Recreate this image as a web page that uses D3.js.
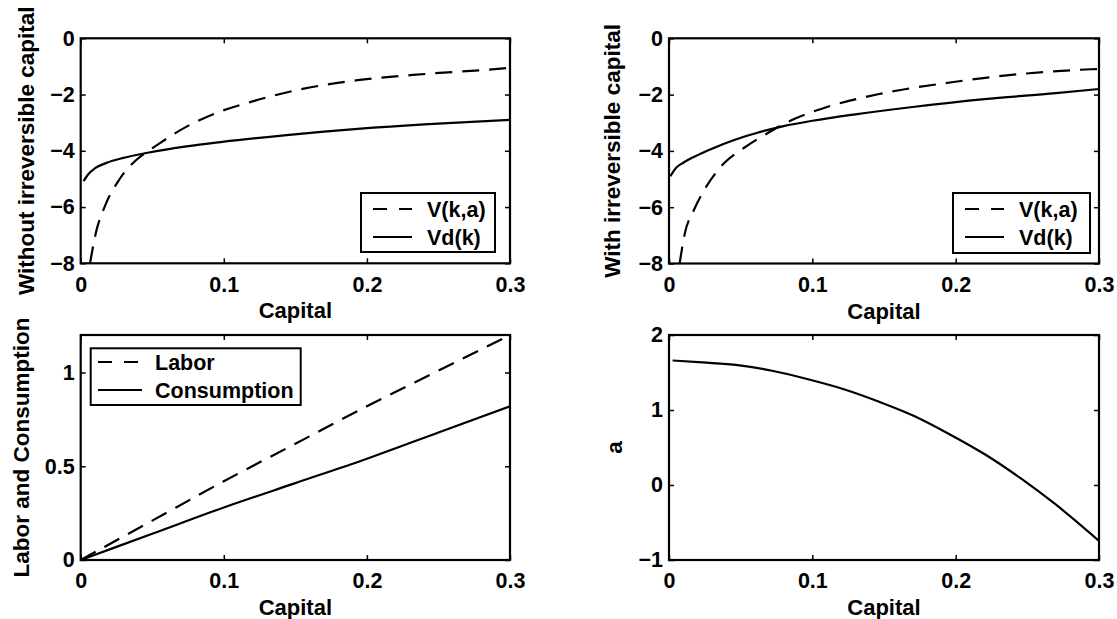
<!DOCTYPE html>
<html>
<head>
<meta charset="utf-8">
<script src="https://cdn.jsdelivr.net/npm/d3@7"></script>
<style>
  html, body { margin: 0; padding: 0; background: #fff; }
  svg { display: block; }
  text { font-family: "Liberation Sans", Arial, Helvetica, sans-serif; font-weight: bold; fill: #000; }
</style>
</head>
<body>
<svg id="chart" width="1117" height="619"></svg>
<script>
// ---------- data ----------
const capitalTicks = [0, 0.1, 0.2, 0.3];
const xLabel = "Capital";

// Top-left: without irreversible capital
const withoutV_k   = [0.0065, 0.0107, 0.017, 0.027, 0.039, 0.0468, 0.057, 0.074, 0.094, 0.119, 0.156, 0.1935, 0.243, 0.298, 0.3];
const withoutV_val = [-8, -6.9, -5.96, -5.02, -4.32, -4.02, -3.67, -3.14, -2.67, -2.26, -1.79, -1.49, -1.26, -1.06, -1.05];
const withoutVd_k   = [0.002, 0.005, 0.01, 0.018, 0.03, 0.0468, 0.074, 0.099, 0.144, 0.1935, 0.243, 0.3];
const withoutVd_val = [-5.08, -4.85, -4.62, -4.43, -4.25, -4.07, -3.84, -3.68, -3.44, -3.22, -3.05, -2.9];

// Top-right: with irreversible capital
const withV_k   = [0.0074, 0.011, 0.0173, 0.0259, 0.038, 0.053, 0.0678, 0.085, 0.1097, 0.1466, 0.196, 0.245, 0.2946, 0.3];
const withV_val = [-8, -6.94, -6.11, -5.28, -4.46, -3.87, -3.4, -2.92, -2.45, -1.98, -1.57, -1.27, -1.1, -1.09];
const withVd_k   = [0.001, 0.005, 0.01, 0.02, 0.03, 0.045, 0.06, 0.08, 0.1, 0.13, 0.17, 0.22, 0.27, 0.3];
const withVd_val = [-4.9, -4.6, -4.42, -4.15, -3.92, -3.62, -3.38, -3.12, -2.93, -2.7, -2.44, -2.16, -1.95, -1.8];

// Bottom-left: labor and consumption
const labor_k   = [0, 0.05, 0.1, 0.15, 0.2, 0.25, 0.3];
const labor_val = [0, 0.21, 0.42, 0.62, 0.82, 1.01, 1.2];
const cons_k   = [0, 0.05, 0.1, 0.15, 0.2, 0.25, 0.3];
const cons_val = [0, 0.14, 0.28, 0.41, 0.54, 0.68, 0.82];

// Bottom-right: a
const a_k   = [0.0025, 0.0234, 0.048, 0.0727, 0.097, 0.122, 0.1466, 0.171, 0.196, 0.2206, 0.245, 0.27, 0.3];
const a_val = [1.66, 1.634, 1.598, 1.52, 1.41, 1.277, 1.11, 0.92, 0.674, 0.406, 0.094, -0.263, -0.745];

const valueTicksTop = [-8, -6, -4, -2, 0];
const laborTicks = [0, 0.5, 1];
const aTicks = [-1, 0, 1, 2];

// ---------- drawing ----------
const svg = d3.select("#chart");
const zip = (ks, vs) => ks.map((k, i) => [k, vs[i]]);

const panels = [
  { id: "tl", box: [80.7, 38.3, 510, 263.3], yDomain: [-8, 0], yTicks: valueTicksTop,
    yLabel: "Without irreversible capital", yLabelX: 34,
    series: [
      { data: zip(withoutV_k, withoutV_val), dash: true, name: "V(k,a)" },
      { data: zip(withoutVd_k, withoutVd_val), dash: false, name: "Vd(k)" } ],
    legend: { box: [361, 193, 495, 252], rows: [209, 237], sample: [373, 412], textX: 427 } },
  { id: "tr", box: [669, 38.3, 1099, 263.5], yDomain: [-8, 0], yTicks: valueTicksTop,
    yLabel: "With irreversible capital", yLabelX: 620,
    series: [
      { data: zip(withV_k, withV_val), dash: true, name: "V(k,a)" },
      { data: zip(withVd_k, withVd_val), dash: false, name: "Vd(k)" } ],
    legend: { box: [953, 193, 1090, 253], rows: [209, 237], sample: [965, 1004], textX: 1019 } },
  { id: "bl", box: [80.7, 335, 510, 560], yDomain: [0, 1.2], yTicks: laborTicks,
    yLabel: "Labor and Consumption", yLabelX: 29,
    series: [
      { data: zip(labor_k, labor_val), dash: true, name: "Labor" },
      { data: zip(cons_k, cons_val), dash: false, name: "Consumption" } ],
    legend: { box: [90.7, 348.3, 300.7, 405], rows: [362, 390], sample: [98, 142], textX: 155 } },
  { id: "br", box: [669, 335, 1099, 560], yDomain: [-1, 2], yTicks: aTicks,
    yLabel: "a", yLabelX: 622,
    series: [ { data: zip(a_k, a_val), dash: false, name: "a" } ],
    legend: null }
];

const DASH = "17,10";

panels.forEach(p => {
  const [x0, y0, x1, y1] = p.box;
  const x = d3.scaleLinear().domain([0, 0.3]).range([x0, x1]);
  const y = d3.scaleLinear().domain(p.yDomain).range([y1, y0]);
  const g = svg.append("g");

  const clipId = "clip-" + p.id;
  svg.append("clipPath").attr("id", clipId)
    .append("rect").attr("x", x0).attr("y", y0).attr("width", x1 - x0).attr("height", y1 - y0);

  // series
  const line = d3.line().x(d => x(d[0])).y(d => y(d[1])).curve(d3.curveMonotoneX);
  p.series.forEach(s => {
    g.append("path")
      .attr("d", line(s.data))
      .attr("clip-path", `url(#${clipId})`)
      .attr("fill", "none")
      .attr("stroke", "#000")
      .attr("stroke-width", 2.2)
      .attr("stroke-dasharray", s.dash ? DASH : null);
  });

  // axes
  const fmt = d => d3.format("")(d).replace("-", "\u2212");
  const bottom = g.append("g").attr("transform", `translate(0,${y1})`)
    .call(d3.axisBottom(x).tickValues(capitalTicks).tickSize(-5).tickSizeOuter(0).tickPadding(13).tickFormat(d => d === 0 ? "0" : d3.format(".1f")(d)));
  const left = g.append("g").attr("transform", `translate(${x0},0)`)
    .call(d3.axisLeft(y).tickValues(p.yTicks).tickSize(-5).tickSizeOuter(0).tickPadding(6).tickFormat(fmt));
  const top = g.append("g").attr("transform", `translate(0,${y0})`)
    .call(d3.axisTop(x).tickValues(capitalTicks).tickSize(-5).tickSizeOuter(0).tickFormat(""));
  const right = g.append("g").attr("transform", `translate(${x1},0)`)
    .call(d3.axisRight(y).tickValues(p.yTicks).tickSize(-5).tickSizeOuter(0).tickFormat(""));
  [bottom, left, top, right].forEach(a => {
    a.select(".domain").remove();
    a.selectAll(".tick line").attr("stroke", "#000").attr("stroke-width", 1.5);
    a.selectAll("text").attr("font-size", 21.5).attr("font-family", null).attr("fill", "#000");
    a.attr("font-family", null).attr("font-size", null);
  });

  // frame
  g.append("rect").attr("x", x0).attr("y", y0).attr("width", x1 - x0).attr("height", y1 - y0)
    .attr("fill", "none").attr("stroke", "#000").attr("stroke-width", 2.2);

  // axis labels
  g.append("text")
    .attr("x", (x0 + x1) / 2).attr("y", y1 + 55)
    .attr("text-anchor", "middle").attr("font-size", 22)
    .text(xLabel);
  g.append("text")
    .attr("transform", `translate(${p.yLabelX},${(y0 + y1) / 2}) rotate(-90)`)
    .attr("text-anchor", "middle").attr("font-size", 22.5)
    .text(p.yLabel);

  // legend
  if (p.legend) {
    const L = p.legend;
    const lg = g.append("g");
    lg.append("rect").attr("x", L.box[0]).attr("y", L.box[1])
      .attr("width", L.box[2] - L.box[0]).attr("height", L.box[3] - L.box[1])
      .attr("fill", "#fff").attr("stroke", "#000").attr("stroke-width", 2);
    p.series.forEach((s, i) => {
      const ry = L.rows[i];
      lg.append("line").attr("x1", L.sample[0]).attr("x2", L.sample[1])
        .attr("y1", ry).attr("y2", ry)
        .attr("stroke", "#000").attr("stroke-width", 2)
        .attr("stroke-dasharray", s.dash ? "14,12" : null);
      lg.append("text").attr("x", L.textX).attr("y", ry).attr("dy", "0.36em")
        .attr("font-size", 21.5).text(s.name);
    });
  }
});
</script>
</body>
</html>
